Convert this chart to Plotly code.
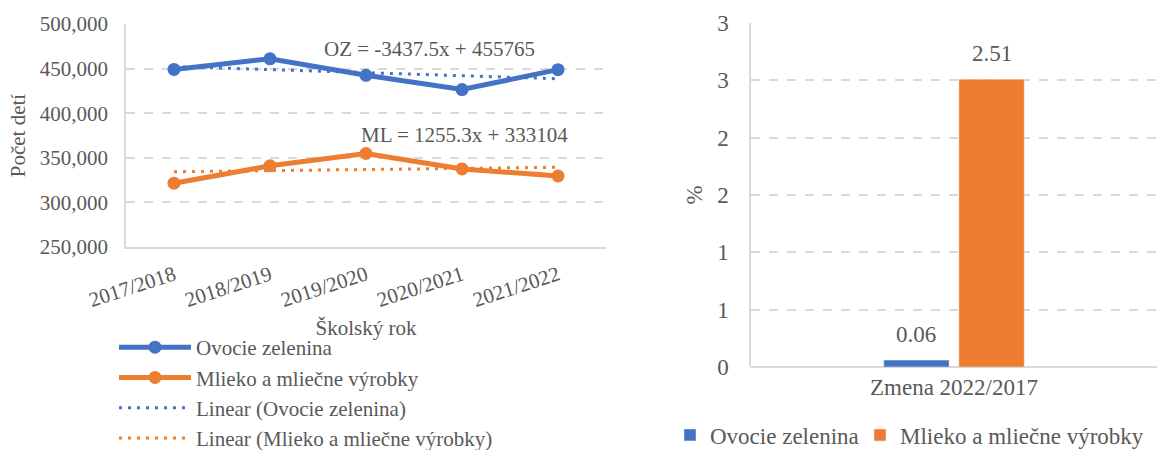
import plotly.graph_objects as go

# ---- data ----
years = ["2017/2018", "2018/2019", "2019/2020", "2020/2021", "2021/2022"]
ovocie = [449100, 461000, 442500, 426500, 448800]
mlieko = [321500, 341000, 354800, 337500, 329600]
oz_slope, oz_intercept = -3437.5, 455765
ml_slope, ml_intercept = 1255.3, 333104

change_cat = ["Zmena 2022/2017"]
change_ovocie = [0.06]
change_mlieko = [2.51]
pct_tickvals = [0, 0.5, 1, 1.5, 2, 2.5, 3]
pct_ticktext = ["0", "1", "1", "2", "2", "3", "3"]

BLUE = "#4472C4"
ORANGE = "#ED7D31"
TXT = "#595959"
GRID = "#D9D9D9"
FONT = "Liberation Serif, Times New Roman, serif"

W, H = 1157, 450
def px_x(p): return p / W
def px_y(p): return 1 - p / H

idx = list(range(1, len(years) + 1))
oz_trend = [oz_slope * i + oz_intercept for i in idx]
ml_trend = [ml_slope * i + ml_intercept for i in idx]

# bar geometry (for value labels above bars)
BARGAP, GROUPGAP = 0.63, 0.13
x2_left = 751
cat_w = W - x2_left
slot = cat_w * (1 - BARGAP) / 2

fig = go.Figure()

fig.add_trace(go.Scatter(x=years, y=ovocie, name="Ovocie zelenina", mode="lines+markers",
                         line=dict(color=BLUE, width=5), marker=dict(size=13, color=BLUE),
                         xaxis="x", yaxis="y", legend="legend"))
fig.add_trace(go.Scatter(x=years, y=mlieko, name="Mlieko a mliečne výrobky", mode="lines+markers",
                         line=dict(color=ORANGE, width=5), marker=dict(size=13, color=ORANGE),
                         xaxis="x", yaxis="y", legend="legend"))
fig.add_trace(go.Scatter(x=years, y=oz_trend, name="Linear (Ovocie zelenina)", mode="lines",
                         line=dict(color=BLUE, width=3, dash="3px,6px"),
                         xaxis="x", yaxis="y", legend="legend"))
fig.add_trace(go.Scatter(x=years, y=ml_trend, name="Linear (Mlieko a mliečne výrobky)", mode="lines",
                         line=dict(color=ORANGE, width=3, dash="3px,6px"),
                         xaxis="x", yaxis="y", legend="legend"))

fig.add_trace(go.Bar(x=change_cat, y=change_ovocie, name="Ovocie zelenina", marker_color=BLUE,
                     legendwidth=145, xaxis="x2", yaxis="y2", legend="legend2"))
fig.add_trace(go.Bar(x=change_cat, y=change_mlieko, name="Mlieko a mliečne výrobky", marker_color=ORANGE,
                     xaxis="x2", yaxis="y2", legend="legend2"))

bar_labels = []
for vals, shift in ((change_ovocie, -slot / 2), (change_mlieko, slot / 2)):
    for c, v in zip(change_cat, vals):
        bar_labels.append(dict(text=f"{v:.2f}", x=c, y=v, xref="x2", yref="y2",
                               xshift=shift, yshift=26, xanchor="center", yanchor="middle",
                               showarrow=False, font=dict(size=23, color=TXT, family=FONT)))

fig.update_layout(
    width=W, height=H,
    margin=dict(l=0, r=0, t=0, b=0, autoexpand=False),
    paper_bgcolor="white", plot_bgcolor="white",
    font=dict(family=FONT, color=TXT, size=21),
    bargap=BARGAP, bargroupgap=GROUPGAP, barmode="group",
    xaxis=dict(domain=[px_x(126), px_x(606)], anchor="y", type="category", automargin=False,
               range=[-0.5, len(years) - 0.5],
               tickangle=-18, showgrid=False, showline=True, linecolor=GRID, linewidth=1.5,
               ticks="", tickfont=dict(size=21), ticklabelstandoff=6,
               title=dict(text="Školský rok", font=dict(size=21), standoff=9)),
    yaxis=dict(domain=[px_y(247), px_y(24)], anchor="x", range=[250000, 500000], dtick=50000,
               automargin=False,
               tickformat=",", showgrid=True, gridcolor=GRID, griddash="dash", gridwidth=1.5,
               showline=True, linecolor=GRID, linewidth=1.5, zeroline=False, ticks="",
               ticklabelstandoff=12, tickfont=dict(size=21),
               title=dict(text="Počet detí", font=dict(size=21), standoff=8)),
    xaxis2=dict(domain=[px_x(x2_left), 1.0], anchor="y2", type="category", showgrid=False,
                automargin=False, showline=False, ticks="", tickfont=dict(size=23),
                ticklabelstandoff=4),
    yaxis2=dict(domain=[px_y(367), px_y(23)], anchor="x2", range=[0, 3], automargin=False,
                tickvals=pct_tickvals, ticktext=pct_ticktext,
                showgrid=True, gridcolor=GRID, griddash="dash", gridwidth=1.5,
                showline=True, linecolor=GRID, linewidth=1.5,
                zeroline=True, zerolinecolor=GRID, zerolinewidth=1.5, ticks="",
                ticklabelstandoff=16, tickfont=dict(size=23),
                title=dict(text="%", font=dict(size=23), standoff=8)),
    legend=dict(x=px_x(114), y=px_y(327), xanchor="left", yanchor="top",
                orientation="v", itemwidth=72, font=dict(size=21), tracegroupgap=0,
                bgcolor="rgba(0,0,0,0)"),
    legend2=dict(x=px_x(670), y=px_y(435), xanchor="left", yanchor="middle",
                 orientation="h", font=dict(size=23), bgcolor="rgba(0,0,0,0)"),
    annotations=[
        dict(text=f"OZ = {oz_slope}x + {oz_intercept}", x=px_x(322), y=px_y(49),
             xref="paper", yref="paper", xanchor="left", yanchor="middle", showarrow=False,
             font=dict(size=21, color=TXT, family=FONT)),
        dict(text=f"ML = {ml_slope}x + {ml_intercept}", x=px_x(359), y=px_y(135),
             xref="paper", yref="paper", xanchor="left", yanchor="middle", showarrow=False,
             font=dict(size=21, color=TXT, family=FONT)),
    ] + bar_labels,
)

fig.write_html("out.html", config={"displayModeBar": False},
               post_script="document.body.style.margin='0';")
